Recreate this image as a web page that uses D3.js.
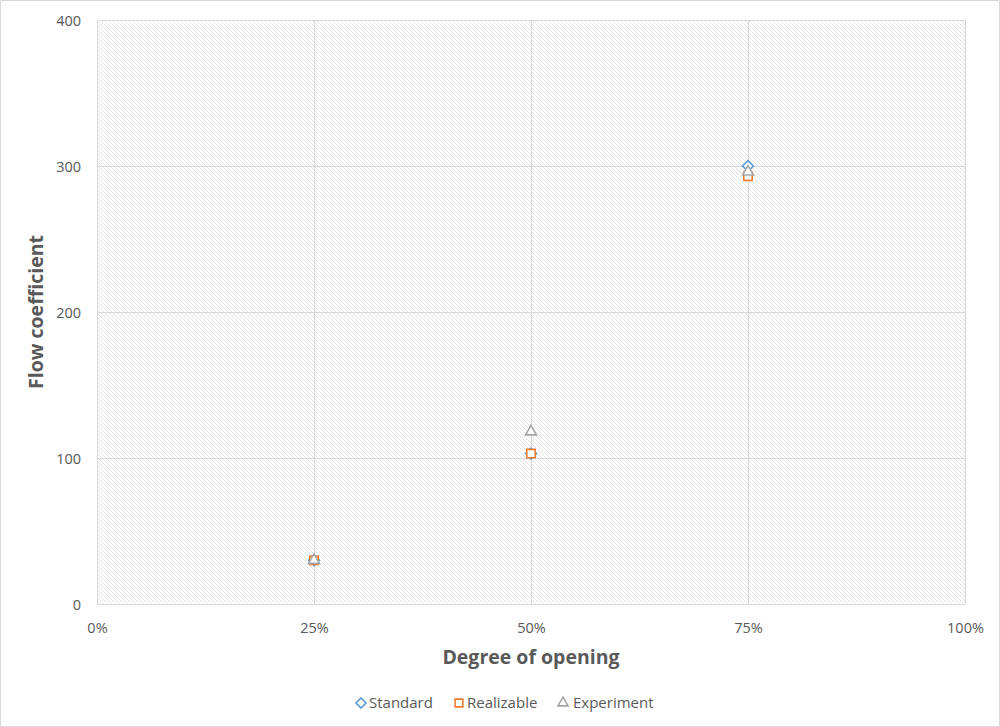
<!DOCTYPE html>
<html>
<head>
<meta charset="utf-8">
<script src="https://cdn.jsdelivr.net/npm/d3@7"></script>
<style>
  body { margin: 0; background: #fff; }
  svg text { font-family: "Open Sans", "Noto Sans", sans-serif; fill: #595959; }
</style>
</head>
<body>
<svg id="chart" width="1000" height="727"></svg>
<script>
// Degree of opening (fraction) and flow coefficient per model
const openings = [0.25, 0.50, 0.75];
const standard = [30, 103, 300];
const realizable = [30, 103, 293];
const experiment = [30, 118, 296];
const seriesNames = ["Standard", "Realizable", "Experiment"];
const xTicks = [0, 0.25, 0.5, 0.75, 1];
const yTicks = [0, 100, 200, 300, 400];

const colors = ["#5b9bd5", "#ed7d31", "#a5a5a5"];
const shapes = [d3.symbolDiamond2, d3.symbolSquare2, d3.symbolTriangle2];

const svg = d3.select("#chart");
const W = 1000, H = 727;
const plot = { left: 97, right: 965, top: 20, bottom: 604 };

// chart frame
svg.append("rect").attr("x", 0.5).attr("y", 0.5).attr("width", W - 1).attr("height", H - 1)
  .attr("fill", "#fff").attr("stroke", "#d9d9d9");

// light diagonal hatch for the plot area
const defs = svg.append("defs");
const pat = defs.append("pattern").attr("id", "hatch").attr("patternUnits", "userSpaceOnUse")
  .attr("width", 4).attr("height", 4);
pat.append("rect").attr("width", 4).attr("height", 4).attr("fill", "#fff");
pat.append("path").attr("d", "M-1,-1 L5,5 M-1,3 L1,5 M3,-1 L5,1")
  .attr("stroke", "#d3d3d3").attr("stroke-width", 0.9).attr("stroke-dasharray", "1,0.6");

const x = d3.scaleLinear().domain([0, 1]).range([plot.left, plot.right]);
const y = d3.scaleLinear().domain([0, 400]).range([plot.bottom, plot.top]);

svg.append("rect").attr("x", plot.left).attr("y", plot.top)
  .attr("width", plot.right - plot.left).attr("height", plot.bottom - plot.top)
  .attr("fill", "url(#hatch)");

// gridlines
const grid = svg.append("g").attr("stroke", "#d9d9d9").attr("stroke-width", 1);
yTicks.forEach(t => grid.append("line")
  .attr("x1", plot.left).attr("x2", plot.right)
  .attr("y1", Math.round(y(t)) + 0.5).attr("y2", Math.round(y(t)) + 0.5));
xTicks.forEach(t => grid.append("line")
  .attr("x1", Math.round(x(t)) + 0.5).attr("x2", Math.round(x(t)) + 0.5)
  .attr("y1", plot.top).attr("y2", plot.bottom));

// axes (labels only)
const yAxis = svg.append("g").attr("transform", `translate(${plot.left - 16},0)`)
  .call(d3.axisLeft(y).tickValues(yTicks).tickSize(0).tickPadding(0));
yAxis.select(".domain").remove();
yAxis.selectAll("text").attr("font-size", 14.5).attr("dy", "0.35em");

const xAxis = svg.append("g").attr("transform", `translate(0,${plot.bottom + 19})`)
  .call(d3.axisBottom(x).tickValues(xTicks).tickFormat(d3.format(".0%")).tickSize(0).tickPadding(0));
xAxis.select(".domain").remove();
xAxis.selectAll("text").attr("font-size", 14.5).attr("dy", "0.71em");

// axis titles
svg.append("text").attr("x", (plot.left + plot.right) / 2).attr("y", 664)
  .attr("text-anchor", "middle").attr("font-size", 19.5).attr("font-weight", "bold")
  .text("Degree of opening");
svg.append("text").attr("transform", `translate(43,${(plot.top + plot.bottom) / 2}) rotate(-90)`)
  .attr("text-anchor", "middle").attr("font-size", 19.5).attr("font-weight", "bold")
  .text("Flow coefficient");

// markers (white-filled, drawn in series order)
const allSeries = [standard, realizable, experiment];
const sizes = [75, 90, 85];
allSeries.forEach((vals, i) => {
  const sym = d3.symbol().type(shapes[i]).size(sizes[i]);
  svg.append("g").selectAll("path").data(vals).join("path")
    .attr("transform", (d, j) => `translate(${x(openings[j])},${y(d)})`)
    .attr("d", sym)
    .attr("fill", "#fff")
    .attr("stroke", colors[i])
    .attr("stroke-width", 1.6);
});

// legend
const legendItems = [
  { x: 361, tx: 369 },
  { x: 459, tx: 467 },
  { x: 563, tx: 573 }
];
const legend = svg.append("g");
seriesNames.forEach((name, i) => {
  legend.append("path")
    .attr("transform", `translate(${legendItems[i].x},703)`)
    .attr("d", d3.symbol().type(shapes[i]).size(sizes[i] * 0.85)())
    .attr("fill", "#fff").attr("stroke", colors[i]).attr("stroke-width", 1.6);
  legend.append("text").attr("x", legendItems[i].tx).attr("y", 703).attr("dy", "0.35em")
    .attr("font-size", 15).text(name);
});
</script>
</body>
</html>
